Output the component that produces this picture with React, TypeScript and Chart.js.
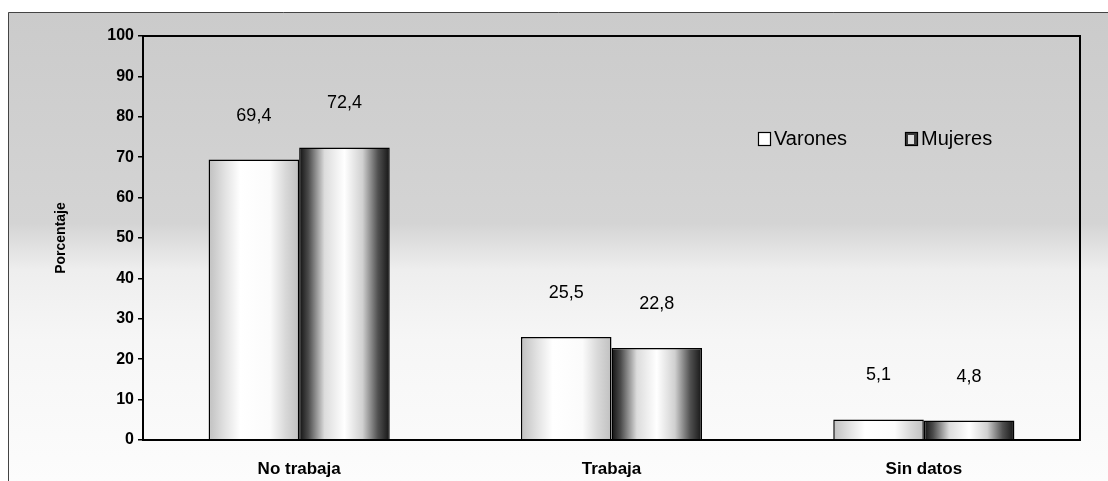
import React, { useEffect, useRef } from "react";
import { Chart, registerables } from "chart.js";

Chart.register(...registerables);

const categories = ["No trabaja", "Trabaja", "Sin datos"];
const varones = [69.4, 25.5, 5.1];
const mujeres = [72.4, 22.8, 4.8];
const seriesNames = ["Varones", "Mujeres"];
const yTicks = [0, 10, 20, 30, 40, 50, 60, 70, 80, 90, 100];

const FONT = 'Arial, "Liberation Sans", sans-serif';
const CAT_PCT = 0.58;

function barGradient(ctx: any, dark: boolean) {
  const chart = ctx.chart;
  const xs = chart.scales && chart.scales.x;
  if (!xs || !chart.chartArea) return dark ? "#777" : "#eee";
  const i = ctx.dataIndex;
  const center = xs.getPixelForValue(i);
  const catW = (chart.chartArea.right - chart.chartArea.left) / categories.length;
  const barW = (catW * CAT_PCT) / 2;
  const left = dark ? center : center - barW;
  const g = chart.ctx.createLinearGradient(left, 0, left + barW, 0);
  if (dark) {
    g.addColorStop(0, "#111111");
    g.addColorStop(0.1, "#4a4a4a");
    g.addColorStop(0.28, "#dcdcdc");
    g.addColorStop(0.5, "#ffffff");
    g.addColorStop(0.7, "#d0d0d0");
    g.addColorStop(0.87, "#505050");
    g.addColorStop(1, "#151515");
  } else {
    g.addColorStop(0, "#c0c0c0");
    g.addColorStop(0.18, "#e2e2e2");
    g.addColorStop(0.35, "#ffffff");
    g.addColorStop(0.68, "#fbfbfb");
    g.addColorStop(0.85, "#d8d8d8");
    g.addColorStop(1, "#c0c0c0");
  }
  return g;
}

const backgroundPlugin = {
  id: "bgTexture",
  beforeDraw(chart: any) {
    const { ctx, width, height } = chart;
    ctx.save();
    ctx.fillStyle = "#ffffff";
    ctx.fillRect(0, 0, width, height);
    const g = ctx.createLinearGradient(0, 12, 0, height);
    g.addColorStop(0, "#cbcbcb");
    g.addColorStop(0.45, "#d4d4d4");
    g.addColorStop(0.55, "#eeeeee");
    g.addColorStop(0.7, "#f6f6f6");
    g.addColorStop(1, "#fcfcfc");
    ctx.fillStyle = g;
    ctx.fillRect(8, 12, width - 8, height - 12);
    ctx.strokeStyle = "#444";
    ctx.lineWidth = 1;
    ctx.beginPath();
    ctx.moveTo(8.5, height);
    ctx.lineTo(8.5, 12.5);
    ctx.lineTo(width, 12.5);
    ctx.stroke();
    ctx.restore();
  },
};

const framePlugin = {
  id: "frame",
  afterDraw(chart: any) {
    const { ctx, chartArea } = chart;
    ctx.save();
    ctx.strokeStyle = "#000";
    ctx.lineWidth = 2;
    ctx.strokeRect(chartArea.left, chartArea.top, chartArea.right - chartArea.left, chartArea.bottom - chartArea.top);
    ctx.restore();
  },
};

const valueLabelPlugin = {
  id: "valueLabels",
  afterDatasetsDraw(chart: any) {
    const { ctx } = chart;
    ctx.save();
    ctx.fillStyle = "#000";
    ctx.font = `18px ${FONT}`;
    ctx.textAlign = "center";
    ctx.textBaseline = "middle";
    chart.data.datasets.forEach((ds: any, di: number) => {
      const meta = chart.getDatasetMeta(di);
      meta.data.forEach((el: any, i: number) => {
        const v = ds.data[i];
        ctx.fillText(String(v).replace(".", ","), el.x, el.y - 44);
      });
    });
    ctx.restore();
  },
};

const legendPlugin = {
  id: "customLegend",
  afterDraw(chart: any) {
    const { ctx, chartArea } = chart;
    const y = chartArea.top + 103;
    const starts = [chartArea.left + 615, chartArea.left + 762];
    ctx.save();
    ctx.font = `20px ${FONT}`;
    ctx.textBaseline = "middle";
    ctx.textAlign = "left";
    chart.data.datasets.forEach((ds: any, di: number) => {
      const x = starts[di];
      ctx.fillStyle = di === 0 ? "#ffffff" : "#3a3a3a";
      ctx.fillRect(x, y - 6, 12, 13);
      if (di === 1) {
        ctx.fillStyle = "#dddddd";
        ctx.fillRect(x + 3, y - 4, 6, 9);
      }
      ctx.strokeStyle = "#000";
      ctx.lineWidth = 1.2;
      ctx.strokeRect(x + 0.5, y - 6.5, 12, 13);
      ctx.fillStyle = "#000";
      ctx.fillText(ds.label, x + 16, y);
    });
    ctx.restore();
  },
};

export default function App() {
  const ref = useRef<HTMLCanvasElement>(null);
  useEffect(() => {
    if (!ref.current) return;
    const chart = new Chart(ref.current, {
      type: "bar",
      data: {
        labels: categories,
        datasets: [
          {
            label: seriesNames[0],
            data: varones,
            backgroundColor: (c: any) => barGradient(c, false),
            borderColor: "#000",
            borderWidth: 1.5,
            categoryPercentage: CAT_PCT,
            barPercentage: 1,
          },
          {
            label: seriesNames[1],
            data: mujeres,
            backgroundColor: (c: any) => barGradient(c, true),
            borderColor: "#000",
            borderWidth: 1.5,
            categoryPercentage: CAT_PCT,
            barPercentage: 1,
          },
        ],
      },
      options: {
        responsive: false,
        animation: false,
        layout: { padding: { left: 0, top: 36, right: 28, bottom: 0 } },
        plugins: { legend: { display: false }, tooltip: { enabled: false } },
        scales: {
          x: {
            grid: { display: false },
            border: { display: true, color: "#000", width: 2 },
            ticks: { font: { family: FONT, size: 17, weight: "bold" }, color: "#000", padding: 11 },
            afterFit: (s: any) => {
              s.height = 41;
            },
          },
          y: {
            min: 0,
            max: 100,
            afterBuildTicks: (s: any) => {
              s.ticks = yTicks.map((v) => ({ value: v }));
            },
            grid: { drawOnChartArea: false, drawTicks: true, tickLength: 5, color: "#000", lineWidth: 1.5 },
            border: { display: true, color: "#000", width: 2 },
            ticks: { font: { family: FONT, size: 16, weight: "bold" }, color: "#000", padding: 4 },
            title: {
              display: true,
              text: "Porcentaje",
              color: "#000",
              font: { family: FONT, size: 14, weight: "bold" },
              padding: { top: 53, bottom: 0 },
            },
            afterFit: (s: any) => {
              s.width = 143;
            },
          },
        },
      },
      plugins: [backgroundPlugin, valueLabelPlugin, legendPlugin, framePlugin],
    });
    return () => chart.destroy();
  }, []);
  return (
    <div style={{ position: "fixed", left: 0, top: 0, width: 1108, height: 481 }}>
      <canvas ref={ref} width={1108} height={481} style={{ display: "block" }} />
    </div>
  );
}
